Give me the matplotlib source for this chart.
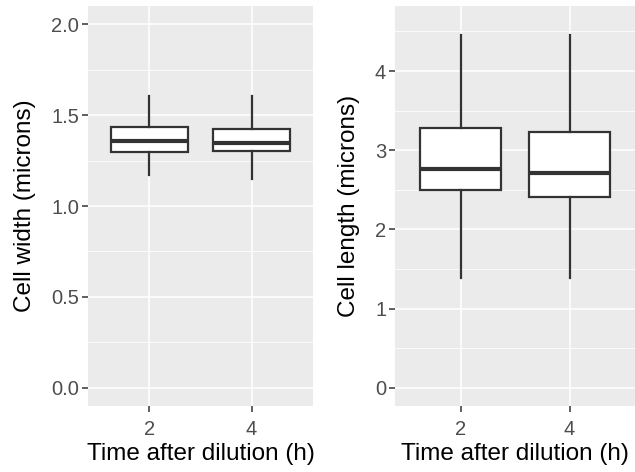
import matplotlib
matplotlib.use("Agg")
import matplotlib.pyplot as plt
from matplotlib.ticker import MultipleLocator

plt.rcParams['font.family'] = ['Liberation Sans', 'DejaVu Sans']

# données
times = ["2", "4"]

width_whislo = [1.17, 1.146]
width_q1 = [1.30, 1.305]
width_med = [1.36, 1.347]
width_q3 = [1.435, 1.424]
width_whishi = [1.604, 1.604]

length_whislo = [1.39, 1.39]
length_q1 = [2.497, 2.41]
length_med = [2.763, 2.71]
length_q3 = [3.284, 3.23]
length_whishi = [4.455, 4.455]

fig = plt.figure(figsize=(6.35, 4.72), dpi=100)
ax1 = fig.add_axes([0.139, 0.140, 0.3535, 0.847])
ax2 = fig.add_axes([0.6224, 0.140, 0.3776, 0.847])

dark = "#333333"
lw = 1.42


def draw_panel(ax, lo, q1, med, q3, hi, ylim, major, minor, ylabel, fmt):
    stats = []
    for i in range(len(times)):
        stats.append({"whislo": lo[i], "q1": q1[i], "med": med[i],
                      "q3": q3[i], "whishi": hi[i], "fliers": []})
    ax.set_facecolor("#EBEBEB")
    ax.yaxis.set_major_locator(MultipleLocator(major))
    ax.yaxis.set_minor_locator(MultipleLocator(minor))
    ax.grid(which="major", color="white", linewidth=1.1)
    ax.grid(which="minor", axis="y", color="white", linewidth=0.55)
    ax.set_axisbelow(True)
    ax.bxp(stats, positions=[1, 2], widths=0.75, showcaps=False,
           patch_artist=True,
           boxprops=dict(facecolor="white", edgecolor=dark, linewidth=1.6),
           whiskerprops=dict(color=dark, linewidth=1.6),
           medianprops=dict(color=dark, linewidth=3.0, solid_capstyle="butt"))
    ax.set_xticks([1, 2])
    ax.set_xticklabels(times)
    ax.set_xlim(0.4, 2.6)
    ax.set_ylim(*ylim)
    ax.yaxis.set_major_formatter(plt.FormatStrFormatter(fmt))
    for s in ax.spines.values():
        s.set_visible(False)
    ax.tick_params(which="major", length=4, width=1.1, color=dark,
                   labelcolor="#4D4D4D", labelsize=14.5, pad=2.5)
    ax.tick_params(axis="x", pad=6)
    ax.tick_params(which="minor", length=0)
    ax.set_xlabel("Time after dilution (h)", fontsize=17.5, labelpad=3)
    ax.set_ylabel(ylabel, fontsize=17.5, labelpad=11)


draw_panel(ax1, width_whislo, width_q1, width_med, width_q3, width_whishi,
           (-0.1, 2.1), 0.5, 0.25, "Cell width (microns)", "%.1f")
draw_panel(ax2, length_whislo, length_q1, length_med, length_q3, length_whishi,
           (-0.23, 4.82), 1, 0.5, "Cell length (microns)", "%d")

fig.savefig("out.png", dpi=100)
